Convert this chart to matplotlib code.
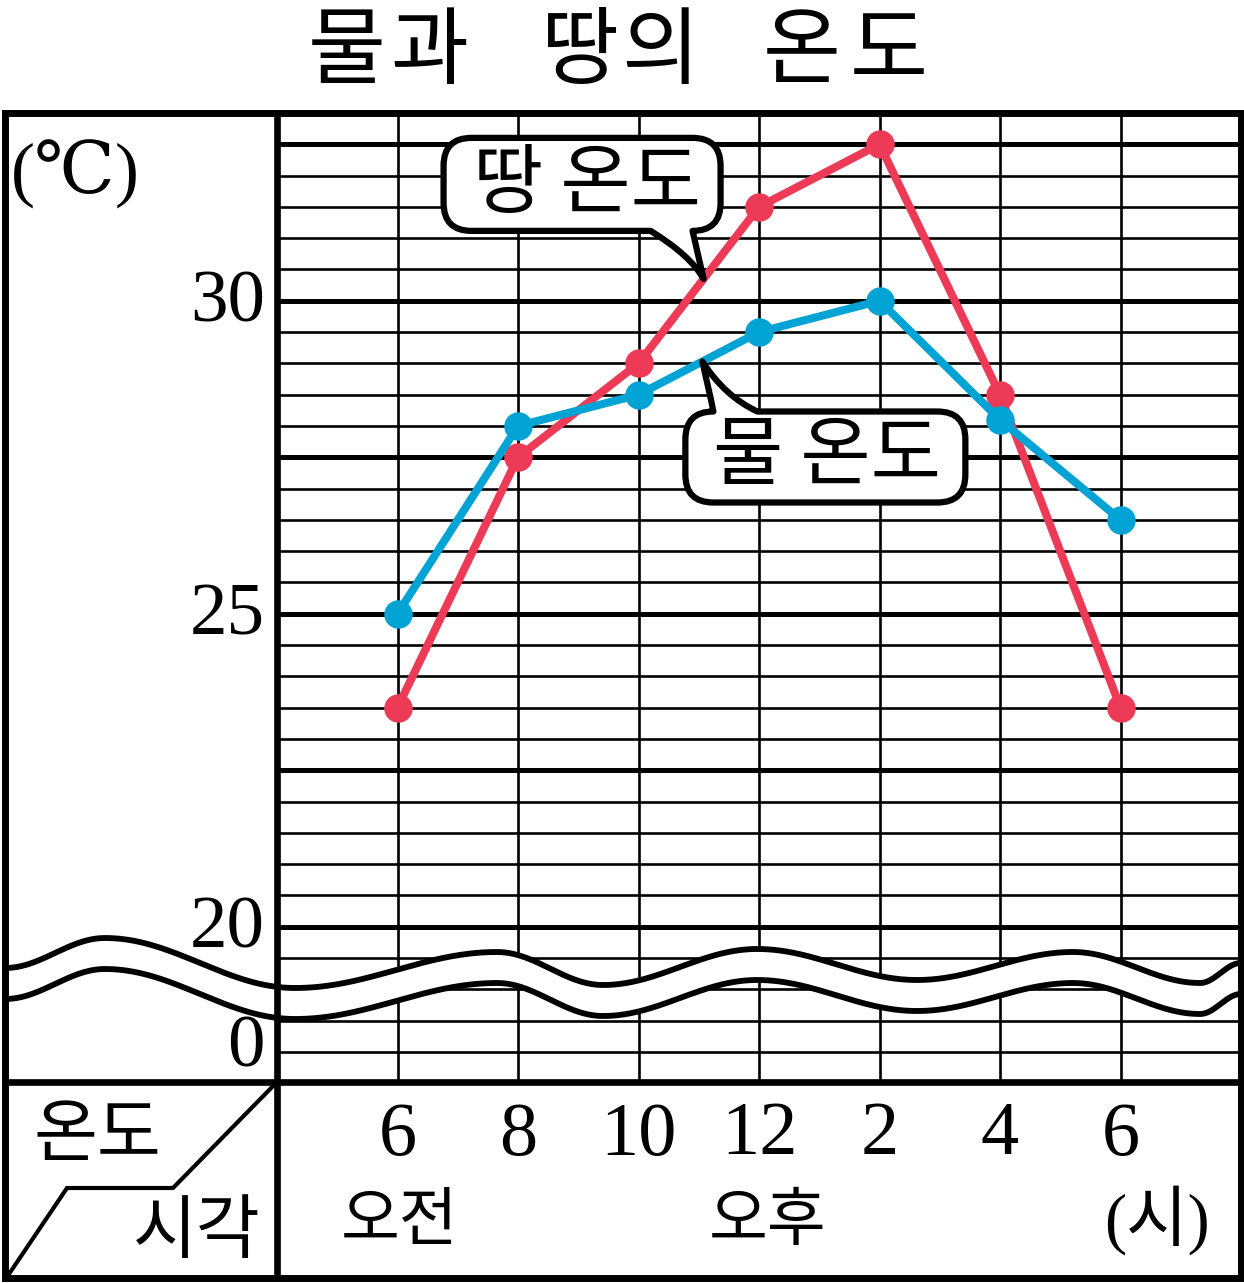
import numpy as np
import matplotlib
matplotlib.use('Agg')
import matplotlib.pyplot as plt
import matplotlib.transforms as mtransforms
from matplotlib.path import Path
from matplotlib.patches import PathPatch

# ---------------- data ----------------
title_text = '물과 땅의 온도'
hour_labels = ['6', '8', '10', '12', '2', '4', '6']
hour_pos = [0, 1, 2, 3, 4, 5, 6]
land_temp = [23.5, 27.5, 29.0, 31.5, 32.5, 28.5, 23.5]
water_temp = [25.0, 28.0, 28.5, 29.5, 30.0, 28.1, 26.5]
ytick_values = [30, 25, 20]
ytick_labels = ['30', '25', '20']
break_label = '0'
unit_text = '(℃)'
land_name = '땅 온도'
water_name = '물 온도'
am_text = '오전'
pm_text = '오후'
hour_unit_text = '(시)'
corner_temp = '온도'
corner_time = '시각'

# ---------------- style ----------------
RED = '#EC3A57'
BLUE = '#00A3D4'
SERIF = ['Liberation Serif', 'DejaVu Serif']
KR = ['Noto Sans CJK KR', 'DejaVu Sans']
SERIF_KR = ['Liberation Serif', 'Noto Sans CJK KR']

W, H, DPI = 1244, 1283, 100
fig = plt.figure(figsize=(W / DPI, H / DPI), dpi=DPI)

# plot area in pixels
PL, PR, PT, PB = 277, 1241, 113, 1082
ax = fig.add_axes([PL / W, 1 - PB / H, (PR - PL) / W, (PB - PT) / H])
ax.set_xlim(-1, 7)
ax.set_ylim(17.52, 33)
ax.axis('off')

# grid
for v in np.arange(18.0, 33.0, 0.5):
    thick = abs(v / 2.5 - round(v / 2.5)) < 1e-9
    ax.axhline(v, color='black', lw=3.6 if thick else 1.9, zorder=1)
for x in hour_pos:
    ax.axvline(x, color='black', lw=1.9, zorder=1)

# data lines
ax.plot(hour_pos, land_temp, color=RED, lw=5.8, marker='o', ms=20.5, mew=0,
        zorder=3, solid_joinstyle='round')
ax.plot(hour_pos, water_temp, color=BLUE, lw=5.8, marker='o', ms=20.5, mew=0,
        zorder=4, solid_joinstyle='round')


# ---------------- speech bubbles ----------------
def bubble_path(left, right, top, bottom, r, tail, tail_side):
    """Rounded box with a tail; coordinates in pixels relative to the tip
    (x right, y down)."""
    M, L3, C3, CL = Path.MOVETO, Path.LINETO, Path.CURVE3, Path.CLOSEPOLY
    v, c = [], []
    if tail_side == 'bottom':
        (bl, br, ctrl) = tail
        v += [(left + r, top)]; c += [M]
        v += [(right - r, top)]; c += [L3]
        v += [(right, top), (right, top + r)]; c += [C3, C3]
        v += [(right, bottom - r)]; c += [L3]
        v += [(right, bottom), (right - r, bottom)]; c += [C3, C3]
        v += [(br, bottom)]; c += [L3]
        v += [(0, 0)]; c += [L3]
        v += [ctrl, (bl, bottom)]; c += [C3, C3]
        v += [(left + r, bottom)]; c += [L3]
        v += [(left, bottom), (left, bottom - r)]; c += [C3, C3]
        v += [(left, top + r)]; c += [L3]
        v += [(left, top), (left + r, top)]; c += [C3, C3]
        v += [(0, 0)]; c += [CL]
    else:
        (bl_pt, br, ctrl) = tail
        v += [(0, 0)]; c += [M]
        v += [ctrl, (br, top)]; c += [C3, C3]
        v += [(right - r, top)]; c += [L3]
        v += [(right, top), (right, top + r)]; c += [C3, C3]
        v += [(right, bottom - r)]; c += [L3]
        v += [(right, bottom), (right - r, bottom)]; c += [C3, C3]
        v += [(left + r, bottom)]; c += [L3]
        v += [(left, bottom), (left, bottom - r)]; c += [C3, C3]
        v += [(left, top + r)]; c += [L3]
        v += [(left, top), (left + r, top)]; c += [C3, C3]
        v += [bl_pt]; c += [L3]
        v += [(0, 0)]; c += [CL]
    return Path(v, c)


def place_bubble(series, seg, frac, path, text, text_off):
    x0, x1 = hour_pos[seg], hour_pos[seg + 1]
    y0, y1 = series[seg], series[seg + 1]
    tip = (x0 + frac * (x1 - x0), y0 + frac * (y1 - y0))
    tr = mtransforms.Affine2D().scale(1, -1) + \
        mtransforms.ScaledTranslation(tip[0], tip[1], ax.transData)
    ax.add_patch(PathPatch(path, transform=tr, facecolor='white',
                           edgecolor='black', lw=4.5, zorder=6,
                           joinstyle='round'))
    ax.annotate(text, xy=tip, xytext=text_off, textcoords='offset pixels',
                ha='center', va='center', fontsize=55, family=KR,
                weight='normal', zorder=7)


land_path = bubble_path(-260, 17, -141, -48, 28,
                        (-53, -11, (-13.5, -24)), 'bottom')
place_bubble(land_temp, 2, 0.54, land_path, land_name, (-117, 94))

water_path = bubble_path(-17, 263, 50, 141, 28,
                         ((9, 40), 55, (22.5, 35)), 'top')
place_bubble(water_temp, 2, 0.53, water_path, water_name, (125, -96))

# ---------------- y labels ----------------
for v, lab in zip(ytick_values, ytick_labels):
    ax.annotate(lab, xy=(0, v), xycoords=('axes fraction', 'data'),
                xytext=(-12, -3), textcoords='offset pixels', ha='right',
                va='center', fontsize=54, family=SERIF, annotation_clip=False)
ax.annotate(break_label, xy=(0, 18.1), xycoords=('axes fraction', 'data'),
            xytext=(-12, -3), textcoords='offset pixels', ha='right',
            va='center', fontsize=54, family=SERIF, annotation_clip=False)

# ---------------- overlay (frame, wave, labels) ----------------
ov = fig.add_axes([0, 0, 1, 1], zorder=10)
ov.set_xlim(0, W)
ov.set_ylim(H, 0)
ov.axis('off')
ov.patch.set_alpha(0)

# inner dividers
ov.plot([PL, PL], [PT, 1278], color='black', lw=4.8, solid_capstyle='butt')
ov.plot([5, 1241], [PB, PB], color='black', lw=4.8, solid_capstyle='butt')
# corner diagonal
ov.plot([PL, 173, 67, 7], [PB, 1188, 1188, 1277], color='black', lw=3.0,
        solid_joinstyle='miter')

# wave break
wave_kx = [5, 105, 295, 497, 603, 757, 917, 1073, 1200, 1241]
wave_ky = [968, 938, 988, 952, 985, 949, 980, 952, 983, 963]
wave_gap = 31
xs = np.linspace(5, 1241, 1200)
ys = np.empty_like(xs)
for i in range(len(wave_kx) - 1):
    m = (xs >= wave_kx[i]) & (xs <= wave_kx[i + 1])
    t = (xs[m] - wave_kx[i]) / (wave_kx[i + 1] - wave_kx[i])
    s = (1 - np.cos(np.pi * t)) / 2
    ys[m] = wave_ky[i] + (wave_ky[i + 1] - wave_ky[i]) * s
ov.fill_between(xs, ys, ys + wave_gap, color='white', lw=0)
ov.plot(xs, ys, color='black', lw=4.2)
ov.plot(xs, ys + wave_gap, color='black', lw=4.2)

# outer frame
ov.plot([5, 1241, 1241, 5, 5], [PT, PT, 1278, 1278, PT], color='black',
        lw=5.0, solid_joinstyle='miter')

# x labels
bt = mtransforms.blended_transform_factory(ax.transData, ov.transData)
for x, lab in zip(hour_pos, hour_labels):
    ov.text(x, 1136, lab, transform=bt, ha='center', va='center',
            fontsize=55, family=SERIF)
ov.text(0.02, 1222, am_text, transform=bt, ha='center', va='center',
        fontsize=46, family=KR, weight='light')
ov.text(3.07, 1222, pm_text, transform=bt, ha='center', va='center',
        fontsize=46, family=KR, weight='light')
ov.text(6.3, 1220, hour_unit_text, transform=bt, ha='center', va='center',
        fontsize=48, family=SERIF_KR, weight='light')

# corner cell
ov.text(97, 1136, corner_temp, ha='center', va='center', fontsize=50,
        family=KR, weight='light')
ov.text(197, 1232, corner_time, ha='center', va='center', fontsize=50,
        family=KR, weight='light')

# unit
ov.text(75, 174, unit_text, ha='center', va='center', fontsize=52,
        family=SERIF)

# title (wide letter spacing: one glyph at a time)
title_cx = [347, 430, None, 580, 660, None, 802, 889]
for cx, ch in zip(title_cx, title_text):
    if cx is None:
        continue
    ov.text(cx, 53, ch, ha='center', va='center', fontsize=61, family=KR,
            weight='normal')

fig.savefig('out.png', dpi=DPI)
